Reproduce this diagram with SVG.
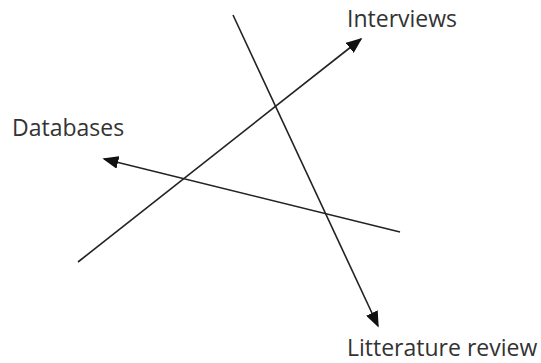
<svg xmlns="http://www.w3.org/2000/svg" width="541" height="363" viewBox="0 0 541 363">
<style>
.lbl{font-family:"Open Sans","Noto Sans",sans-serif;font-size:23px;fill:#333}
.ln{stroke:#222;stroke-width:1.6;fill:none;marker-end:url(#ah)}
</style>
<defs>
<marker id="ah" markerWidth="10" markerHeight="8" refX="9" refY="4" orient="auto" markerUnits="strokeWidth">
<path d="M0,0 L10,4 L0,8 Z" fill="#111"/>
</marker>
</defs>
<rect width="541" height="363" fill="#fff"/>
<g id="connectors">
<line class="ln" x1="78" y1="262" x2="361" y2="39"/>
<line class="ln" x1="400" y1="232" x2="104" y2="159"/>
<line class="ln" x1="233" y1="15" x2="378" y2="326"/>
</g>
<g id="interviews"><text class="lbl" x="347" y="27">Interviews</text></g>
<g id="databases"><text class="lbl" x="12" y="136">Databases</text></g>
<g id="litterature"><text class="lbl" x="347" y="356">Litterature review</text></g>
</svg>
